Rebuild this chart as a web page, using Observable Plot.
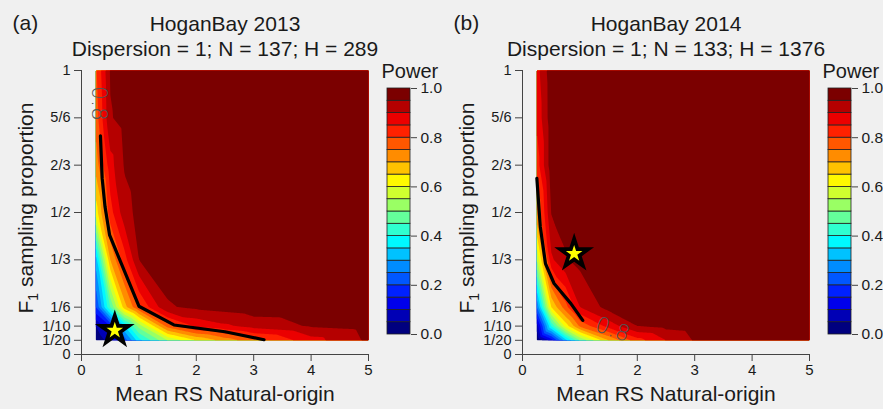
<!DOCTYPE html>
<html><head><meta charset="utf-8">
<script src="https://cdn.jsdelivr.net/npm/d3@7"></script>
<script src="https://cdn.jsdelivr.net/npm/@observablehq/plot@0.6"></script>
<style>
body{margin:0;background:#f0f0f0;}
#root{position:relative;width:883px;height:409px;overflow:hidden;background:#f0f0f0;font-family:"Liberation Sans",Arial,sans-serif;}
#root > svg{position:absolute;top:0;}
</style></head><body><div id="root"></div><script>
// grid of simulated designs
const xs = [0.25, 0.5, 0.75, 1, 1.5, 2, 2.5, 3, 4, 5];           // mean RS natural-origin
const ys = [0.05, 0.1, 1/6, 1/3, 1/2, 2/3, 5/6, 1];              // F1 sampling proportion
// power, rows follow ys (bottom to top), columns follow xs
const powerA = [
  [0.00, 0.08, 0.22, 0.38, 0.55, 0.65, 0.72, 0.78, 0.88, 0.96],
  [0.05, 0.15, 0.35, 0.52, 0.77, 0.86, 0.89, 0.92, 0.955, 0.97],
  [0.20, 0.45, 0.68, 0.80, 0.945, 0.96, 0.97, 0.98, 0.985, 0.99],
  [0.32, 0.70, 0.83, 0.95, 0.975, 0.985, 0.99, 0.99, 0.99, 0.99],
  [0.62, 0.83, 0.93, 0.965, 0.985, 0.99, 0.99, 0.99, 0.99, 0.99],
  [0.72, 0.88, 0.955, 0.975, 0.99, 0.99, 0.99, 0.99, 0.99, 0.99],
  [0.77, 0.945, 0.97, 0.98, 0.99, 0.99, 0.99, 0.99, 0.99, 0.99],
  [0.79, 0.955, 0.975, 0.985, 0.99, 0.99, 0.99, 0.99, 0.99, 0.99]
];
const powerB = [
  [0.00, 0.12, 0.33, 0.50, 0.70, 0.83, 0.90, 0.955, 0.975, 0.985],
  [0.07, 0.40, 0.62, 0.76, 0.87, 0.95, 0.965, 0.975, 0.985, 0.99],
  [0.25, 0.65, 0.78, 0.90, 0.97, 0.98, 0.985, 0.99, 0.99, 0.99],
  [0.55, 0.89, 0.945, 0.965, 0.98, 0.99, 0.99, 0.99, 0.99, 0.99],
  [0.74, 0.952, 0.97, 0.98, 0.99, 0.99, 0.99, 0.99, 0.99, 0.99],
  [0.823, 0.98, 0.985, 0.99, 0.99, 0.99, 0.99, 0.99, 0.99, 0.99],
  [0.86, 0.98, 0.985, 0.99, 0.99, 0.99, 0.99, 0.99, 0.99, 0.99],
  [0.88, 0.982, 0.985, 0.99, 0.99, 0.99, 0.99, 0.99, 0.99, 0.99]
];
// black power line
const lineAx = [0.33, 0.36, 0.41, 0.49, 1.0, 1.61, 2.5, 3.18];
const lineAy = [0.77, 0.62, 0.52, 0.42, 0.17, 0.104, 0.08, 0.052];
const lineBx = [0.25, 0.31, 0.40, 0.55, 0.84, 1.05];
const lineBy = [0.62, 0.45, 0.32, 0.25, 0.18, 0.12];
// observed design (star)
const starA = [{x: 0.58, y: 0.085}];
const starB = [{x: 0.90, y: 0.355}];
// contour label
const labelA = [{x: 0.30, y: 0.884, text: "0.8"}];
const labelB = [{x: 1.57, y: 0.088, text: "0.8"}];
// ticks
const xTicks = [0, 1, 2, 3, 4, 5];
const yTicks = [0, 0.05, 0.1, 1/6, 1/3, 1/2, 2/3, 5/6, 1];
const yTickLabels = ["0", "1/20", "1/10", "1/6", "1/3", "1/2", "2/3", "5/6", "1"];
const powerTicks = [0, 0.2, 0.4, 0.6, 0.8, 1.0];
// colour levels
const levels = [0, 0.05, 0.1, 0.15, 0.2, 0.25, 0.3, 0.35, 0.4, 0.45, 0.5, 0.55, 0.6, 0.65, 0.7, 0.75, 0.8, 0.85, 0.9, 0.95];
const palette = ["#00007F","#0000B5","#0000EB","#0021FF","#0057FF","#008CFF","#00C2FF","#00F8FF","#2FFFD0","#64FF9A",
                 "#9AFF64","#D0FF2F","#FFF900","#FFC200","#FF8C00","#FF5700","#FF2100","#EB0000","#B50000","#7B0000"];

const FONT = '"Liberation Sans", Arial, sans-serif';
const colorScale = {type: "threshold", domain: levels.slice(1), range: palette};
const yLabelMap = new Map(yTicks.map((t, i) => [t, yTickLabels[i]]));

function panel(power, lx, ly, star, label, labelRotate, tag, title, subtitle) {
  const grid = [];
  ys.forEach((y, j) => xs.forEach((x, i) => grid.push({x, y, v: power[j][i]})));
  const line = lx.map((x, i) => ({x, y: ly[i]}));
  const svg = Plot.plot({
    width: 441, height: 409,
    marginTop: 70, marginBottom: 55, marginLeft: 81, marginRight: 73,
    x: {domain: [xTicks[0], xTicks[xTicks.length - 1]], label: null},
    y: {domain: [yTicks[0], yTicks[yTicks.length - 1]], label: null},
    color: colorScale,
    style: {fontFamily: FONT, fontSize: "15px", background: "transparent", color: "#1a1a1a"},
    marks: [
      Plot.contour(grid, {
        x: "x", y: "y", value: "v", fill: "value", stroke: "none",
        thresholds: levels, interpolate: "barycentric", pixelSize: 1,
        x1: xs[0], x2: xs[xs.length - 1], y1: ys[0], y2: ys[ys.length - 1]
      }),
      Plot.line(line, {x: "x", y: "y", stroke: "black", strokeWidth: 3.2}),
      Plot.dot(star, {x: "x", y: "y", symbol: "star", r: 12.5, fill: "black", stroke: "none"}),
      Plot.dot(star, {x: "x", y: "y", symbol: "star", r: 5.2, fill: "#FFFF00", stroke: "none"}),
      Plot.text(label, {x: "x", y: "y", text: "text", rotate: labelRotate, fontSize: 22,
        fill: "#555", fontWeight: 200, fontFamily: "DejaVu Sans"}),
      Plot.ruleX([xTicks[0]], {y1: yTicks[0], y2: yTicks[yTicks.length - 1], stroke: "#444"}),
      Plot.ruleY([yTicks[0]], {x1: xTicks[0], x2: xTicks[xTicks.length - 1], stroke: "#444"}),
      Plot.axisX(xTicks, {tickSize: 7, tickPadding: 3, fontSize: 15, stroke: "#444", fill: "#1a1a1a", label: null}),
      Plot.axisY(yTicks, {tickSize: 7, tickPadding: 4, fontSize: 14.5, stroke: "#444", fill: "#1a1a1a",
        tickFormat: d => yLabelMap.get(d), label: null}),
      Plot.text([title], {frameAnchor: "top", dy: -40, lineAnchor: "bottom", fontSize: 21}),
      Plot.text([subtitle], {frameAnchor: "top", dy: -15, lineAnchor: "bottom", fontSize: 21}),
      Plot.text([tag], {frameAnchor: "top-left", dx: -69, dy: -41, textAnchor: "start", lineAnchor: "bottom", fontSize: 21}),
      Plot.text(["Mean RS Natural-origin"], {frameAnchor: "bottom", dy: 46, lineAnchor: "bottom", fontSize: 21})
    ]
  });
  // y axis title with subscript
  const t = d3.select(svg).append("text")
    .attr("transform", "translate(33,208) rotate(-90)")
    .attr("text-anchor", "middle")
    .attr("font-size", 21).attr("font-family", FONT).attr("fill", "#1a1a1a");
  t.append("tspan").text("F");
  t.append("tspan").attr("font-size", 14).attr("dy", 5).text("1");
  t.append("tspan").attr("dy", -5).text(" sampling proportion");
  return svg;
}

function colorbar() {
  const bins = levels.map((lo, i) => ({lo, hi: i < levels.length - 1 ? levels[i + 1] : powerTicks[powerTicks.length - 1]}));
  return Plot.plot({
    width: 62, height: 409,
    marginTop: 88, marginBottom: 75, marginLeft: 6, marginRight: 33,
    y: {domain: [powerTicks[0], powerTicks[powerTicks.length - 1]], label: null},
    color: colorScale,
    style: {fontFamily: FONT, fontSize: "15px", background: "transparent", color: "#1a1a1a", overflow: "visible"},
    marks: [
      Plot.rect(bins, {y1: "lo", y2: "hi", fill: "lo", stroke: "#222", strokeWidth: 0.8}),
      Plot.axisY(powerTicks, {anchor: "right", tickSize: 6, tickPadding: 4, fontSize: 15.5,
        stroke: "#444", fill: "#1a1a1a", tickFormat: d => d.toFixed(1), label: null}),
      Plot.text(["Power"], {frameAnchor: "top-left", dx: -6, dy: -11, textAnchor: "start", lineAnchor: "bottom", fontSize: 20})
    ]
  });
}

const root = document.getElementById("root");
const pa = panel(powerA, lineAx, lineAy, starA, labelA, 90, "(a)", "HoganBay 2013", "Dispersion = 1; N = 137; H = 289");
pa.style.left = "0px";
root.appendChild(pa);
const ca = colorbar(); ca.style.left = "381px"; root.appendChild(ca);
const pb = panel(powerB, lineBx, lineBy, starB, labelB, 20, "(b)", "HoganBay 2014", "Dispersion = 1; N = 133; H = 1376");
pb.style.left = "441px";
root.appendChild(pb);
const cb = colorbar(); cb.style.left = "822px"; root.appendChild(cb);
</script></body></html>
